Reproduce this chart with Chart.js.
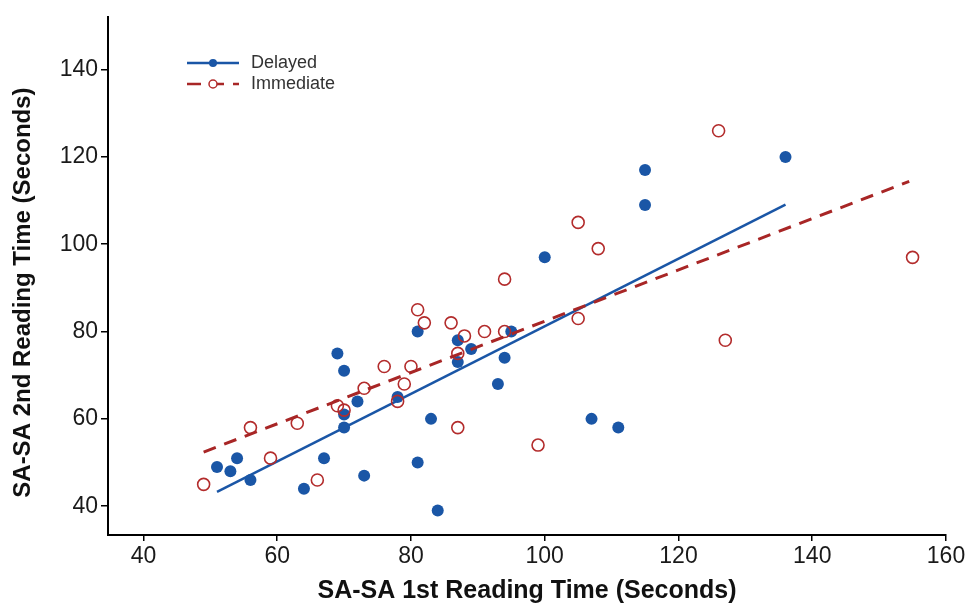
<!DOCTYPE html>
<html>
<head>
<meta charset="utf-8">
<script src="https://cdn.jsdelivr.net/npm/chart.js@4.4.1/dist/chart.umd.min.js"></script>
<style>
  html, body { margin: 0; padding: 0; background: #ffffff; }
  #wrap { width: 970px; height: 606px; }
</style>
</head>
<body>
<div id="wrap"><canvas id="c" width="970" height="606"></canvas></div>
<script>
// ---- data ----
const seriesNames = ['Delayed', 'Immediate'];
const xTitle = 'SA-SA 1st Reading Time (Seconds)';
const yTitle = 'SA-SA 2nd Reading Time (Seconds)';
const xTicks = [40, 60, 80, 100, 120, 140, 160];
const yTicks = [40, 60, 80, 100, 120, 140];

const delayedX = [51, 53, 54, 56, 64, 67, 69, 70, 70, 70, 72, 73, 78, 81, 81, 83, 84, 87, 87, 89, 93, 94, 95, 100, 107, 111, 115, 115, 136];
const delayedY = [49, 48, 51, 46, 44, 51, 75, 71, 61, 58, 64, 47, 65, 80, 50, 60, 39, 78, 73, 76, 68, 74, 80, 97, 60, 58, 109, 117, 120];

const immediateX = [49, 56, 59, 63, 66, 69, 70, 73, 76, 78, 79, 80, 81, 82, 86, 87, 87, 88, 91, 94, 94, 99, 105, 105, 108, 126, 127, 155];
const immediateY = [45, 58, 51, 59, 46, 63, 62, 67, 72, 64, 68, 72, 85, 82, 82, 75, 58, 79, 80, 92, 80, 54, 105, 83, 99, 126, 78, 97];

// fitted lines as drawn in the reference (endpoints)
const delayedFitX = [51, 136];
const delayedFitY = [43.3, 109.1];
const immediateFitX = [49, 154.5];
const immediateFitY = [52.4, 114.4];

// ---- styling ----
const BLUE = '#1a56a6';
const RED = '#b32c2c';
const RED_LINE = '#a82626';
const AXIS = '#000000';
const FONT = '"Liberation Sans", Arial, sans-serif';

const toPts = (xs, ys) => xs.map((x, i) => ({ x: x, y: ys[i] }));

const insetLegend = {
  id: 'insetLegend',
  afterDatasetsDraw(chart) {
    const ctx = chart.ctx;
    const rows = [
      { label: seriesNames[0], y: 63, color: BLUE, dash: [], filled: true },
      { label: seriesNames[1], y: 84, color: RED_LINE, dash: [14, 9], filled: false }
    ];
    ctx.save();
    rows.forEach(r => {
      ctx.beginPath();
      ctx.setLineDash(r.dash);
      ctx.lineWidth = 2.5;
      ctx.strokeStyle = r.color;
      ctx.moveTo(187, r.y);
      ctx.lineTo(239, r.y);
      ctx.stroke();
      ctx.setLineDash([]);
      ctx.beginPath();
      ctx.arc(213, r.y, 4, 0, Math.PI * 2);
      if (r.filled) {
        ctx.fillStyle = r.color;
        ctx.fill();
      } else {
        ctx.fillStyle = '#ffffff';
        ctx.fill();
        ctx.lineWidth = 1.5;
        ctx.strokeStyle = RED;
        ctx.stroke();
      }
      ctx.fillStyle = '#333333';
      ctx.font = '18px ' + FONT;
      ctx.textAlign = 'left';
      ctx.textBaseline = 'middle';
      ctx.fillText(r.label, 251, r.y);
    });
    ctx.restore();
  }
};

new Chart(document.getElementById('c'), {
  type: 'scatter',
  data: {
    datasets: [
      {
        label: seriesNames[1],
        data: toPts(immediateX, immediateY),
        pointStyle: 'circle',
        pointRadius: 6,
        pointHoverRadius: 6,
        pointBorderWidth: 1.6,
        pointBorderColor: RED,
        pointBackgroundColor: 'rgba(255,255,255,0)',
        showLine: false,
        order: 1
      },
      {
        label: seriesNames[0],
        data: toPts(delayedX, delayedY),
        pointStyle: 'circle',
        pointRadius: 6,
        pointHoverRadius: 6,
        pointBorderWidth: 0,
        pointBackgroundColor: BLUE,
        pointBorderColor: BLUE,
        showLine: false,
        order: 2
      },
      {
        label: seriesNames[0] + ' fit',
        data: toPts(delayedFitX, delayedFitY),
        showLine: true,
        borderColor: BLUE,
        borderWidth: 2.5,
        pointRadius: 0,
        fill: false,
        order: 3
      },
      {
        label: seriesNames[1] + ' fit',
        data: toPts(immediateFitX, immediateFitY),
        showLine: true,
        borderColor: RED_LINE,
        borderWidth: 3,
        borderDash: [13, 9],
        pointRadius: 0,
        fill: false,
        order: 0
      }
    ]
  },
  options: {
    responsive: false,
    animation: false,
    devicePixelRatio: 1,
    layout: { padding: { top: 15, right: 24, left: 0, bottom: 0 } },
    plugins: {
      legend: { display: false },
      tooltip: { enabled: false }
    },
    scales: {
      x: {
        type: 'linear',
        min: 34.7,
        max: 160,
        afterBuildTicks: s => { s.ticks = xTicks.map(v => ({ value: v })); },
        afterFit: s => { s.height = 71; },
        grid: { drawOnChartArea: false, drawTicks: true, tickLength: 6, color: AXIS, lineWidth: 1.5 },
        border: { display: true, color: AXIS, width: 2 },
        ticks: { color: '#1a1a1a', font: { family: FONT, size: 23 }, padding: 2, maxRotation: 0 },
        title: { display: true, text: xTitle, color: '#111111', font: { family: FONT, size: 25, weight: 'bold' }, padding: { top: 0, bottom: 0 } }
      },
      y: {
        type: 'linear',
        min: 33.4,
        max: 152.1,
        afterBuildTicks: s => { s.ticks = yTicks.map(v => ({ value: v })); },
        afterFit: s => { s.width = 108; },
        grid: { drawOnChartArea: false, drawTicks: true, tickLength: 7, color: AXIS, lineWidth: 1.5 },
        border: { display: true, color: AXIS, width: 2 },
        ticks: { color: '#1a1a1a', font: { family: FONT, size: 23 }, padding: 3 },
        title: { display: true, text: yTitle + '\u00A0\u00A0\u00A0\u00A0\u00A0', color: '#111111', font: { family: FONT, size: 24, weight: 'bold' }, padding: { top: 9, bottom: 0 } }
      }
    }
  },
  plugins: [insetLegend]
});
</script>
</body>
</html>
